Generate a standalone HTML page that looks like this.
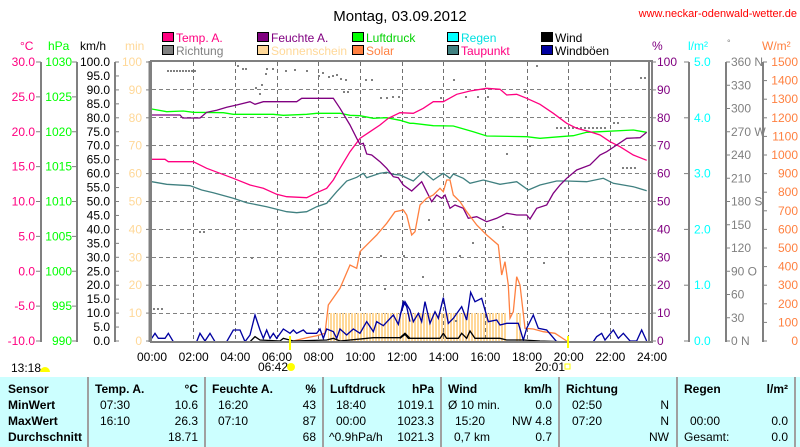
<!DOCTYPE html>
<html><head><meta charset="utf-8">
<style>
body{margin:0;background:#fff;width:800px;height:447px;overflow:hidden;font-family:"Liberation Sans",sans-serif;}
svg{position:absolute;left:0;top:0}
text{font-family:"Liberation Sans",sans-serif;font-size:12px}
.tb{position:absolute;left:0;top:377px;width:800px;height:70px;background:#ccffff;font-size:12px}
.tb div{position:absolute;white-space:nowrap}
.b{font-weight:bold}
.sep{position:absolute;top:0;width:2px;height:70px;background:#a0a0a0}
</style></head><body>
<svg width="800" height="447" viewBox="0 0 800 447">
<defs>
<pattern id="st" width="3" height="10" patternUnits="userSpaceOnUse"><rect width="2" height="10" fill="#ffd898"/></pattern>
<pattern id="hd" x="152" y="0" width="7" height="1" patternUnits="userSpaceOnUse"><rect width="4" height="1" fill="#808080"/></pattern>
</defs>
<text x="400" y="21" text-anchor="middle" style="font-size:15px">Montag, 03.09.2012</text>
<text x="797" y="17" text-anchor="end" fill="#ff0000" style="font-size:11px">www.neckar-odenwald-wetter.de</text>
<g stroke="#000" stroke-width="1">
<rect x="162.5" y="32.5" width="11" height="9" fill="#ff0080"/>
<rect x="257.5" y="32.5" width="11" height="9" fill="#800080"/>
<rect x="352.5" y="32.5" width="11" height="9" fill="#00ff00"/>
<rect x="447.5" y="32.5" width="11" height="9" fill="#00ffff"/>
<rect x="541.5" y="32.5" width="11" height="9" fill="#000"/>
<rect x="162.5" y="45.5" width="11" height="9" fill="#808080"/>
<rect x="257.5" y="45.5" width="11" height="9" fill="#ffd898"/>
<rect x="352.5" y="45.5" width="11" height="9" fill="#ff8040"/>
<rect x="447.5" y="45.5" width="11" height="9" fill="#408080"/>
<rect x="541.5" y="45.5" width="11" height="9" fill="#0000a0"/>
</g>
<text x="176" y="42" fill="#ff0080">Temp. A.</text>
<text x="271" y="42" fill="#800080">Feuchte A.</text>
<text x="366" y="42" fill="#00d000">Luftdruck</text>
<text x="461" y="42" fill="#00e0e0">Regen</text>
<text x="555" y="42" fill="#000">Wind</text>
<text x="176" y="55" fill="#808080">Richtung</text>
<text x="271" y="55" fill="#ffd898">Sonnenschein</text>
<text x="366" y="55" fill="#ff8040">Solar</text>
<text x="461" y="55" fill="#ff0080">Taupunkt</text>
<text x="555" y="55" fill="#000">Windböen</text>
<text x="20" y="50" fill="#ff0080">°C</text>
<text x="48" y="50" fill="#00ff00">hPa</text>
<text x="80" y="50" fill="#000">km/h</text>
<text x="125" y="50" fill="#ffd898">min</text>
<text x="652" y="50" fill="#800080">%</text>
<text x="688" y="50" fill="#00ffff">l/m²</text>
<text x="727" y="46" fill="#808080" style="font-size:9px">°</text>
<text x="762" y="50" fill="#ff8040">W/m²</text>
<g stroke="#808080" stroke-width="2">
<line x1="41" y1="62" x2="41" y2="342"/>
<line x1="77" y1="62" x2="77" y2="342"/>
<line x1="115" y1="62" x2="115" y2="342"/>
<line x1="689" y1="62" x2="689" y2="342"/>
<line x1="726" y1="62" x2="726" y2="342"/>
<line x1="763" y1="62" x2="763" y2="342"/>
</g>
<g id="ticks" stroke="#808080" stroke-width="1"></g>
<g id="labels"></g>
<g fill="url(#hd)">
<rect x="152" y="89" width="500" height="1"/>
<rect x="152" y="117" width="500" height="1"/>
<rect x="152" y="145" width="500" height="1"/>
<rect x="152" y="173" width="500" height="1"/>
<rect x="152" y="201" width="500" height="1"/>
<rect x="152" y="229" width="500" height="1"/>
<rect x="152" y="257" width="500" height="1"/>
<rect x="152" y="285" width="500" height="1"/>
<rect x="152" y="313" width="500" height="1"/>
</g>
<g stroke="#707070" stroke-dasharray="4,3" stroke-width="1" fill="none">
<path d="M193.5 62V341M235.5 62V341M277.5 62V341M318.5 62V341M360.5 62V341M402.5 62V341M443.5 62V341M485.5 62V341M527.5 62V341M568.5 62V341M610.5 62V341"/>
</g>
<rect x="328" y="313" width="82" height="28" fill="url(#st)"/>
<rect x="400" y="313" width="107" height="28" fill="url(#st)"/>
<rect x="515" y="313" width="6" height="28" fill="url(#st)"/>
<g fill="#808080">
<rect x="167" y="70" width="2" height="2"/><rect x="170" y="70" width="2" height="2"/><rect x="173" y="70" width="2" height="2"/><rect x="176" y="70" width="2" height="2"/><rect x="179" y="70" width="2" height="2"/><rect x="182" y="70" width="2" height="2"/><rect x="185" y="70" width="2" height="2"/><rect x="188" y="70" width="2" height="2"/><rect x="191" y="70" width="2" height="2"/><rect x="194" y="70" width="2" height="2"/>
<rect x="237" y="65" width="2" height="2"/><rect x="242" y="68" width="2" height="2"/><rect x="245" y="68" width="2" height="2"/><rect x="266" y="68" width="2" height="2"/><rect x="272" y="68" width="2" height="2"/><rect x="265" y="73" width="2" height="2"/><rect x="285" y="70" width="2" height="2"/><rect x="294" y="69" width="2" height="2"/><rect x="306" y="70" width="2" height="2"/><rect x="318" y="75" width="2" height="2"/><rect x="322" y="72" width="2" height="2"/><rect x="328" y="76" width="2" height="2"/><rect x="332" y="75" width="2" height="2"/><rect x="336" y="74" width="2" height="2"/><rect x="340" y="78" width="2" height="2"/><rect x="345" y="79" width="2" height="2"/><rect x="255" y="87" width="2" height="2"/><rect x="261" y="84" width="2" height="2"/><rect x="259" y="93" width="2" height="2"/><rect x="343" y="91" width="2" height="2"/><rect x="347" y="91" width="2" height="2"/><rect x="365" y="79" width="2" height="2"/><rect x="371" y="79" width="2" height="2"/><rect x="380" y="97" width="2" height="2"/><rect x="386" y="97" width="2" height="2"/><rect x="392" y="96" width="2" height="2"/><rect x="398" y="96" width="2" height="2"/><rect x="440" y="97" width="2" height="2"/><rect x="453" y="79" width="2" height="2"/><rect x="465" y="96" width="2" height="2"/><rect x="477" y="96" width="2" height="2"/><rect x="487" y="96" width="2" height="2"/><rect x="524" y="91" width="2" height="2"/><rect x="536" y="65" width="2" height="2"/><rect x="556" y="127" width="2" height="2"/><rect x="560" y="127" width="2" height="2"/><rect x="564" y="127" width="2" height="2"/><rect x="568" y="127" width="2" height="2"/><rect x="572" y="127" width="2" height="2"/><rect x="576" y="127" width="2" height="2"/><rect x="580" y="127" width="2" height="2"/><rect x="584" y="127" width="2" height="2"/><rect x="588" y="127" width="2" height="2"/><rect x="592" y="127" width="2" height="2"/><rect x="596" y="127" width="2" height="2"/><rect x="600" y="127" width="2" height="2"/><rect x="604" y="127" width="2" height="2"/><rect x="613" y="122" width="2" height="2"/><rect x="617" y="122" width="2" height="2"/><rect x="622" y="167" width="2" height="2"/><rect x="626" y="167" width="2" height="2"/><rect x="630" y="167" width="2" height="2"/><rect x="634" y="167" width="2" height="2"/><rect x="640" y="77" width="2" height="2"/><rect x="644" y="77" width="2" height="2"/>
<rect x="199" y="231" width="2" height="2"/><rect x="203" y="231" width="2" height="2"/><rect x="251" y="257" width="2" height="2"/><rect x="380" y="255" width="2" height="2"/><rect x="384" y="288" width="2" height="2"/><rect x="428" y="219" width="2" height="2"/><rect x="403" y="255" width="2" height="2"/><rect x="459" y="255" width="2" height="2"/><rect x="422" y="276" width="2" height="2"/><rect x="455" y="320" width="2" height="2"/><rect x="153" y="308" width="2" height="2"/><rect x="157" y="308" width="2" height="2"/><rect x="161" y="308" width="2" height="2"/><rect x="472" y="242" width="2" height="2"/><rect x="543" y="262" width="2" height="2"/><rect x="502" y="226" width="2" height="2"/><rect x="506" y="153" width="2" height="2"/><rect x="529" y="145" width="2" height="2"/>
</g>
<g fill="none" stroke-width="1.3">
<polyline stroke="#00ff00" points="151.7,109 166.7,111.7 183.3,111 193.3,112.3 223.3,112.7 233.3,114.3 273.3,114.3 283.3,115.3 306.7,114.3 316.7,113.3 340,113.3 350,115.3 360,115.7 373.3,118.3 386.7,117.7 400,120.3 410,123.3 413.3,123.3 433.3,125.7 453.3,126 473.3,131.7 486.7,136 526.7,136.7 540,138.3 560,136.7 573.3,135.7 586.7,132.3 600,131.7 633.3,130 646.7,132.3"/>
<polyline stroke="#408080" points="151.7,181.7 166.7,184.3 190,185.7 201.7,190 213.3,192.7 233.3,198.3 246.7,202.7 266.7,206.7 276.7,209.3 286.7,211.7 296.7,212.7 306.7,211.7 316.7,206.7 326.7,203.3 336.7,191.7 346.7,181 356.7,177.3 363.3,173.3 366.7,177.7 380,173.3 386.7,172.3 393.3,174.3 400,175 413.3,181 423.3,171.7 433.3,180 443.3,173.3 450,178.3 453.3,174 463.3,178.3 470,183.3 483.3,180 500,184.3 516.7,181.7 528.3,190 540,185 556.7,181 566.7,181 586.7,181.7 603.3,178.3 613.3,183.3 633.3,186.7 646.7,190.7"/>
<polyline stroke="#ff0080" points="151.7,159.3 165,159.3 168.3,161.7 193.3,161.7 206.7,168.3 220,173.3 233.3,178.3 250,185 263.3,188.3 276.7,194.3 286.7,196.7 306.7,197.7 316.7,192.7 326.7,188.3 333.3,180 340,168.3 350,151.7 360,138.3 370,131.7 380,125 388.3,118.3 400,112.7 413.3,113.3 423.3,108.3 433.3,101.7 443.3,101.7 456.7,94.3 470,91 486.7,88.3 500,89.3 506.7,95 516.7,94.3 526.7,98.3 540,104.3 553.3,113.3 566.7,123.3 576.7,128.3 590,131.7 600,135 610,141.7 620,146.7 633.3,155 646.7,160.3"/>
<polyline stroke="#800080" points="151.7,115 180,115 182.7,118 200,118 206.7,112.3 216.7,110.3 226.7,107.3 236.7,105 250,101.7 255,104.3 263.3,101.7 296.7,101.7 301.7,98.3 333.3,98.3 340,108.3 350,125 356.7,138.3 360,144.3 363.3,143.3 366.7,154 371.7,155 380,161.7 386.7,168.3 393.3,176.7 398.3,177.7 403.3,185 411.7,191 421.7,181.7 431.7,201.7 436.7,195 441.7,198.3 445,195 450,208.3 455,205 463.3,208.3 468.3,218.3 476.7,216.7 486.7,221.7 496.7,218.3 506.7,213.3 516.7,215 526.7,215 530,219 536.7,208.3 546.7,205 553.3,193.3 560,185 566.7,178.3 576.7,170 590,165 600,155 606.7,151.7 616.7,145 626.7,138.3 640,137.7 646.7,132.3"/>
<polyline stroke="#ff8040" points="290,341.7 306.7,337.7 316.7,335.7 325,333.3 328.3,305 340,288.3 350,265 356.7,268.3 360,251.7 370,241.7 376.7,235 386.7,223.3 395,211.7 403.3,210 406.7,215 410,228.3 411.7,235 415,231.7 420,205 426.7,198.3 433.3,195 440,188.3 443.3,191.7 446.7,180 450,180 453.3,195 460,201.7 466.7,211.7 476.7,225 486.7,235 498.3,245 501.7,275 505,261.7 508.3,285 510,318.3 513.3,311.7 516.7,276.7 520,285 525,328.3 533.3,329 543.3,331.7 555,333.3 566.7,341"/>
<g transform="translate(140,55) scale(0.33333)" stroke-width="4">
<polyline stroke="#0000a0" points="35,850 45,835 55,850 75,850 85,835 100,860 170,860 180,835 195,858 210,835 225,860 260,860 280,825 300,825 315,860 330,840 345,780 360,825 370,850 380,825 390,850 400,835 410,850 430,822 450,835 460,825 470,835 490,825 500,835 530,835 540,822 550,850 560,822 580,830 590,850 600,822 620,840 640,822 660,835 680,800 700,830 710,800 730,812 760,780 775,808 790,740 800,755 810,800"/>
<polyline stroke="#000" points="35,860 330,860 345,845 360,855 420,858 430,850 460,858 560,855 580,850 600,858 700,848 780,848 795,835 810,850"/>
</g>
<g transform="translate(400,55) scale(0.33333)" stroke-width="4">
<polyline stroke="#0000a0" points="0,780 15,740 30,765 40,800 55,775 65,800 75,740 90,805 105,770 115,790 130,728 145,805 160,790 185,755 200,795 212,712 225,740 245,730 265,800 290,795 300,810 320,805 355,805 370,855 380,820 400,780 415,820 440,825 470,860 500,860 580,860 590,845 605,835 615,855 640,825 655,850 670,835 690,858 710,858 725,825 740,858"/>
<polyline stroke="#000" points="0,850 15,838 25,850 120,850 130,835 140,850 175,850 185,835 200,850 210,828 225,850 300,850 320,855 370,855 420,858 480,860"/>
</g>
</g>
<rect x="151" y="61" width="501" height="281" fill="none" stroke="#808080" stroke-width="2"/>
<line x1="150" y1="61" x2="150" y2="342" stroke="#808080" stroke-width="3"/>
<line x1="649" y1="61" x2="649" y2="342" stroke="#808080" stroke-width="2"/>
<line x1="290" y1="336" x2="290" y2="350" stroke="#ffff00" stroke-width="2"/>
<line x1="568" y1="336" x2="568" y2="348" stroke="#ffff00" stroke-width="2"/>
<text x="258" y="371">06:42</text>
<circle cx="291" cy="367" r="4" fill="#ffff00"/>
<text x="535" y="371">20:01</text>
<rect x="565" y="364" width="5" height="5" fill="none" stroke="#ffff00"/>
<text x="11" y="372">13:18</text>
<path d="M40,372 a5,5 0 0 1 10,0 z" fill="#ffff00"/>
<g id="xl"></g>
</svg>
<div class="tb">
<div class="sep" style="left:87px"></div><div class="sep" style="left:204px"></div><div class="sep" style="left:322px"></div><div class="sep" style="left:440px"></div><div class="sep" style="left:558px"></div><div class="sep" style="left:676px"></div><div class="sep" style="left:794px"></div>
<div class="b" style="left:8px;top:5px">Sensor</div>
<div class="b" style="left:8px;top:21px">MinWert</div>
<div class="b" style="left:8px;top:37px">MaxWert</div>
<div class="b" style="left:8px;top:53px">Durchschnitt</div>
<div class="b" style="left:95px;top:5px">Temp. A.</div><div class="b" style="right:602px;top:5px">°C</div>
<div style="left:100px;top:21px">07:30</div><div style="right:602px;top:21px">10.6</div>
<div style="left:100px;top:37px">16:10</div><div style="right:602px;top:37px">26.3</div>
<div style="right:602px;top:53px">18.71</div>
<div class="b" style="left:212px;top:5px">Feuchte A.</div><div class="b" style="right:484px;top:5px">%</div>
<div style="left:218px;top:21px">16:20</div><div style="right:484px;top:21px">43</div>
<div style="left:218px;top:37px">07:10</div><div style="right:484px;top:37px">87</div>
<div style="right:484px;top:53px">68</div>
<div class="b" style="left:330px;top:5px">Luftdruck</div><div class="b" style="right:366px;top:5px">hPa</div>
<div style="left:336px;top:21px">18:40</div><div style="right:366px;top:21px">1019.1</div>
<div style="left:336px;top:37px">00:00</div><div style="right:366px;top:37px">1023.3</div>
<div style="left:329px;top:53px">^0.9hPa/h</div><div style="right:366px;top:53px">1021.3</div>
<div class="b" style="left:448px;top:5px">Wind</div><div class="b" style="right:248px;top:5px">km/h</div>
<div style="left:448px;top:21px">Ø 10 min.</div><div style="right:248px;top:21px">0.0</div>
<div style="left:455px;top:37px">15:20</div><div style="right:248px;top:37px">NW 4.8</div>
<div style="left:454px;top:53px">0,7 km</div><div style="right:248px;top:53px">0.7</div>
<div class="b" style="left:566px;top:5px">Richtung</div>
<div style="left:572px;top:21px">02:50</div><div style="right:131px;top:21px">N</div>
<div style="left:572px;top:37px">07:20</div><div style="right:131px;top:37px">N</div>
<div style="right:131px;top:53px">NW</div>
<div class="b" style="left:684px;top:5px">Regen</div><div class="b" style="right:12px;top:5px">l/m²</div>
<div style="left:690px;top:37px">00:00</div><div style="right:12px;top:37px">0.0</div>
<div style="left:684px;top:53px">Gesamt:</div><div style="right:12px;top:53px">0.0</div>
</div>
<script>
(function(){
var NS="http://www.w3.org/2000/svg";
function T(g,x,y,s,c,anchor){var t=document.createElementNS(NS,"text");t.setAttribute("x",x);t.setAttribute("y",y);t.setAttribute("fill",c);if(anchor)t.setAttribute("text-anchor",anchor);t.textContent=s;document.getElementById(g).appendChild(t);}
function L(x1,y1,x2,y2){var l=document.createElementNS(NS,"line");l.setAttribute("x1",x1);l.setAttribute("y1",y1);l.setAttribute("x2",x2);l.setAttribute("y2",y2);document.getElementById("ticks").appendChild(l);}
var Y0=62,Y1=341,H=Y1-Y0,i,y,x;
for(i=0;i<=8;i++){y=Y0+H*i/8;
 T("labels",35,y+4,(30-5*i).toFixed(1),"#ff0080","end");L(36,y,41,y);
 T("labels",72,y+4,(1030-5*i),"#00ff00","end");L(72,y,77,y);}
for(i=0;i<=20;i++){y=Y0+H*i/20;T("labels",110,y+4,(100-5*i).toFixed(1),"#000","end");L(115,y,119,y);}
for(i=0;i<=10;i++){y=Y0+H*i/10;T("labels",142,y+4,(100-10*i),"#ffd898","end");L(146,y,151,y);
 T("labels",657,y+4,(100-10*i),"#800080");L(652,y,656,y);}
for(i=0;i<=5;i++){y=Y0+H*i/5;T("labels",694,y+4,(5-i).toFixed(1),"#00ffff");L(684,y,689,y);}
var dn={0:" N",3:" W",6:" S",9:" O",12:" N"};
for(i=0;i<=12;i++){y=Y0+H*i/12;T("labels",731,y+4,(360-30*i)+(dn[i]||""),"#808080");L(726,y,730,y);}
for(i=0;i<=15;i++){y=Y0+H*i/15;T("labels",798,y+4,(1500-100*i),"#ff8040","end");L(763,y,767,y);}
for(i=0;i<=12;i++){x=152+500*i/12;var h=2*i;T("xl",x,361,(h<10?"0":"")+h+":00","#000","middle");}
})();
</script>
</body></html>
